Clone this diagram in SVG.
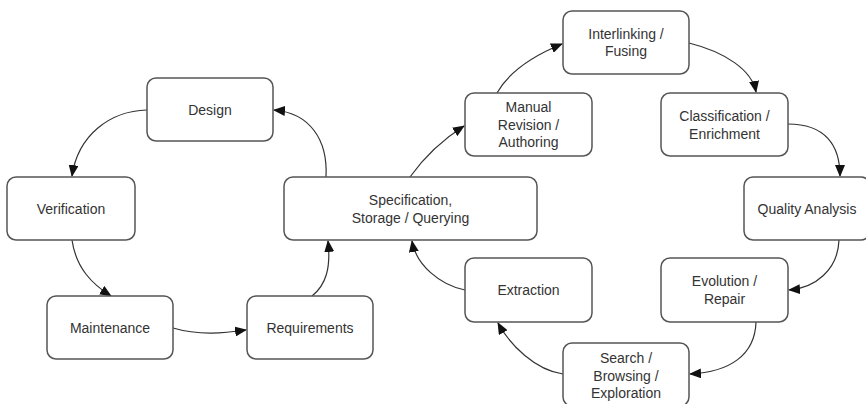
<svg xmlns="http://www.w3.org/2000/svg" width="866" height="404" viewBox="0 0 866 404">
<style>
.box{fill:#fff;stroke:#555;stroke-width:1.5}
.lbl{font-family:"Liberation Sans",Arial,sans-serif;font-size:14px;fill:#333;text-anchor:middle}
.edge{fill:none;stroke:#333;stroke-width:1.2;marker-end:url(#arr)}
</style>
<defs>
<marker id="arr" markerWidth="12" markerHeight="10" refX="11" refY="5" orient="auto" markerUnits="userSpaceOnUse">
<path d="M0,0 L12,5 L0,10 Z" fill="#111"/>
</marker>
</defs>
<rect width="866" height="404" fill="#fff"/>
<g id="connectors">
<path class="edge" d="M147,110 C110,111 78,135 72,176"/>
<path class="edge" d="M72,240 C76,268 92,284 111,296"/>
<path class="edge" d="M173,328 C200,336 225,333 246,330"/>
<path class="edge" d="M312,296 C326,285 331,268 328,241"/>
<path class="edge" d="M326,177 C328,140 310,113 274,110"/>
<path class="edge" d="M410,177 C425,156 442,140 464,126"/>
<path class="edge" d="M497,93 C510,70 535,55 562,44"/>
<path class="edge" d="M689,43 C725,52 752,70 756,92"/>
<path class="edge" d="M788,124 C825,124 840,145 840,176"/>
<path class="edge" d="M839,240 C838,270 815,288 789,290"/>
<path class="edge" d="M756,322 C755,355 730,372 690,374"/>
<path class="edge" d="M563,374 C535,370 510,345 498,323"/>
<path class="edge" d="M465,290 C440,285 416,265 412,241"/>
</g>
<g id="design"><rect class="box" x="147" y="78" width="126" height="63" rx="9"/><text class="lbl" x="210" y="114.5">Design</text></g>
<g id="verification"><rect class="box" x="7" y="177" width="128" height="63" rx="9"/><text class="lbl" x="71" y="213.5">Verification</text></g>
<g id="maintenance"><rect class="box" x="47" y="296" width="126" height="63" rx="9"/><text class="lbl" x="110" y="332.5">Maintenance</text></g>
<g id="requirements"><rect class="box" x="247" y="296" width="126" height="63" rx="9"/><text class="lbl" x="310" y="332.5">Requirements</text></g>
<g id="specification"><rect class="box" x="284" y="177" width="253" height="63" rx="9"/><text class="lbl" x="410.5" y="205">Specification,</text><text class="lbl" x="410.5" y="223">Storage / Querying</text></g>
<g id="manual-revision"><rect class="box" x="465" y="93" width="127" height="63" rx="9"/><text class="lbl" x="528.5" y="112">Manual</text><text class="lbl" x="528.5" y="129.5">Revision /</text><text class="lbl" x="528.5" y="147">Authoring</text></g>
<g id="interlinking"><rect class="box" x="563" y="11" width="126" height="63" rx="9"/><text class="lbl" x="626" y="38.5">Interlinking /</text><text class="lbl" x="626" y="56">Fusing</text></g>
<g id="classification"><rect class="box" x="661" y="93" width="127" height="63" rx="9"/><text class="lbl" x="724.5" y="121">Classification /</text><text class="lbl" x="724.5" y="138.5">Enrichment</text></g>
<g id="quality-analysis"><rect class="box" x="744" y="177" width="126" height="63" rx="9"/><text class="lbl" x="807" y="213.5">Quality Analysis</text></g>
<g id="evolution"><rect class="box" x="661" y="258" width="127" height="64" rx="9"/><text class="lbl" x="724.5" y="286">Evolution /</text><text class="lbl" x="724.5" y="303.5">Repair</text></g>
<g id="extraction"><rect class="box" x="465" y="258" width="127" height="64" rx="9"/><text class="lbl" x="528.5" y="295">Extraction</text></g>
<g id="search"><rect class="box" x="563" y="343" width="126" height="63" rx="9"/><text class="lbl" x="626" y="363">Search /</text><text class="lbl" x="626" y="380.5">Browsing /</text><text class="lbl" x="626" y="398">Exploration</text></g>
</svg>
